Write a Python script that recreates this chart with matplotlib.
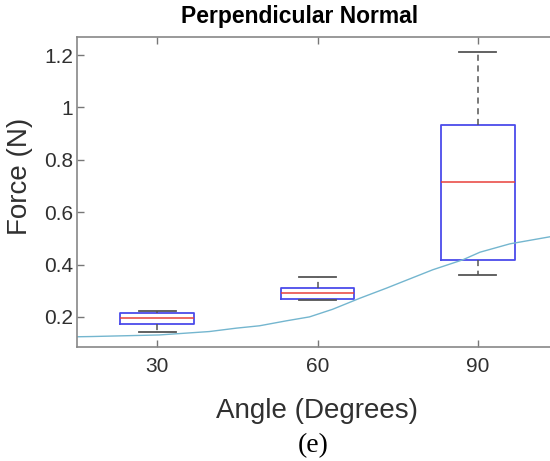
import matplotlib
matplotlib.use("Agg")
import matplotlib.pyplot as plt

# box statistics
angles = ["30", "60", "90"]
q1 = [0.173, 0.269, 0.418]
med = [0.196, 0.292, 0.716]
q3 = [0.215, 0.311, 0.934]
whislo = [0.143, 0.266, 0.361]
whishi = [0.223, 0.353, 1.213]

# fitted curve (light blue line)
curve_x = [0.494, 0.594, 1.013, 1.325, 1.494, 1.638, 1.806, 1.95, 2.094,
           2.263, 2.431, 2.513, 2.719, 2.906, 3.013, 3.2, 3.45]
curve_y = [0.124, 0.125, 0.131, 0.144, 0.157, 0.166, 0.185, 0.2, 0.229,
           0.271, 0.31, 0.330, 0.380, 0.418, 0.447, 0.479, 0.506]

stats = []
for i, name in enumerate(angles):
    stats.append(dict(label=name, med=med[i], q1=q1[i], q3=q3[i],
                      whislo=whislo[i], whishi=whishi[i], fliers=[]))

fig = plt.figure(figsize=(5.5, 4.61), dpi=100)
ax = fig.add_axes([77 / 550, 114 / 461, 481 / 550, 310 / 461])

ax.bxp(stats, positions=[1, 2, 3], widths=0.46, capwidths=0.23,
       boxprops=dict(color="#4b4bea", linewidth=1.3),
       medianprops=dict(color="#e8403a", linewidth=1.1),
       whiskerprops=dict(color="#555555", linewidth=1.1, linestyle=(0, (4, 3))),
       capprops=dict(color="#555555", linewidth=1.3))

ax.plot(curve_x, curve_y, color="#74b6cf", linewidth=1.0)

ax.set_xlim(0.5, 3.5)
ax.set_ylim(0.085, 1.269)
ax.set_xticks([1, 2, 3])
ax.set_xticklabels(angles)
ax.set_yticks([0.2, 0.4, 0.6, 0.8, 1.0, 1.2])
ax.set_yticklabels(["0.2", "0.4", "0.6", "0.8", "1", "1.2"])

ax.tick_params(direction="in", length=5, top=True, right=True,
               labelsize=15, colors="#777777", labelcolor="#303030", width=1.0)
ax.tick_params(axis="x", pad=7)
ax.tick_params(axis="y", pad=3)
for s in ax.spines.values():
    s.set_color("#888888")
    s.set_linewidth(1.2)

for t in ax.get_xticklabels() + ax.get_yticklabels():
    t.set_family("Liberation Sans")

ax.set_xlabel("Angle (Degrees)", fontsize=20, family="Liberation Sans",
              color="#303030", va="center")
ax.xaxis.set_label_coords(0.5, -0.206)
ax.set_ylabel("Force (N)", fontsize=20, family="Liberation Sans",
              color="#303030", va="center")
ax.yaxis.set_label_coords(-0.1195, 0.55)

fig.text(300 / 550, 1 - 16 / 461, "Perpendicular Normal", ha="center",
         va="center", fontsize=16.5, fontweight="bold", family="Liberation Sans")
fig.text(313 / 550, 1 - 446 / 461, "(e)", ha="center", va="center",
         fontsize=20, family="Liberation Serif")

fig.savefig("out.png", dpi=100)
